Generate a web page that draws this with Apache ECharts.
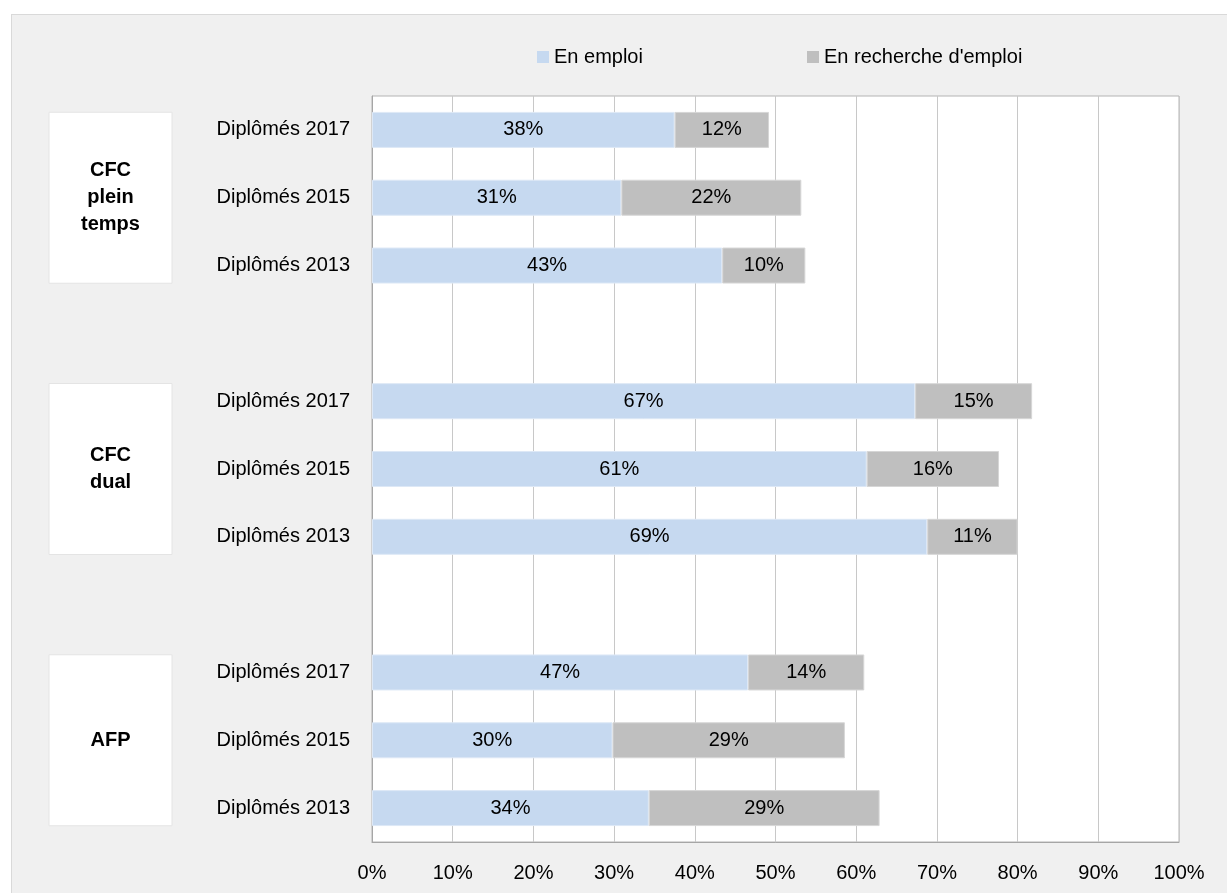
<!DOCTYPE html>
<html>
<head>
<meta charset="utf-8">
<script src="https://cdn.jsdelivr.net/npm/echarts@6/dist/echarts.min.js"></script>
<style>
  html, body { margin: 0; padding: 0; background: #fff; overflow: hidden; }
  #wrap { position: relative; width: 1227px; height: 893px; }
  #panel { position: absolute; left: 11px; top: 14px; width: 1230px; height: 900px; background: #f0f0f0; border: 1px solid #d9d9d9; }
  #chart { position: absolute; left: 0; top: 0; width: 1227px; height: 893px; }
</style>
</head>
<body>
<div id="wrap">
  <div id="panel"></div>
  <div id="chart"></div>
</div>
<script>
const FONT = '"Liberation Sans", Arial, sans-serif'

// 11 slots: 3 years per group, with an empty slot between groups
const categories = [
  'Diplômés 2017', 'Diplômés 2015', 'Diplômés 2013', '',
  'Diplômés 2017', 'Diplômés 2015', 'Diplômés 2013', '',
  'Diplômés 2017', 'Diplômés 2015', 'Diplômés 2013',
]
const enEmploi = [37.5, 30.9, 43.4, '-', 67.3, 61.3, 68.8, '-', 46.6, 29.8, 34.3]
const enRecherche = [11.7, 22.3, 10.3, '-', 14.5, 16.4, 11.2, '-', 14.4, 28.8, 28.6]
const groups = ['CFC\nplein\ntemps', 'CFC\ndual', 'AFP']
const groupMiddle = [1, 5, 9]
const seriesNames = ['En emploi', "En recherche d'emploi"]

const chart = echarts.init(document.getElementById('chart'))

const barLabel = {
  show: true,
  position: 'inside',
  color: '#000',
  fontFamily: FONT,
  fontSize: 20,
  formatter: (p) => `${Math.round(p.value)}%`,
}

const legendCommon = {
  top: 47, padding: 0,
  icon: 'rect', itemWidth: 12, itemHeight: 12,
  itemStyle: { borderWidth: 0 },
  textStyle: { fontFamily: FONT, fontSize: 20, lineHeight: 20, color: '#000' },
}

chart.setOption({
  animation: false,
  backgroundColor: 'transparent',
  textStyle: { fontFamily: FONT },
  legend: [
    { ...legendCommon, data: [seriesNames[0]], left: 537 },
    { ...legendCommon, data: [seriesNames[1]], left: 807 },
  ],
  grid: {
    left: 372, right: 48, top: 96, bottom: 51,
    show: true, backgroundColor: '#fff', borderColor: '#b4b4b4', borderWidth: 1,
  },
  xAxis: {
    type: 'value', min: 0, max: 100, interval: 10,
    axisLabel: { formatter: '{value}%', color: '#000', fontFamily: FONT, fontSize: 20, lineHeight: 20, margin: 21 },
    axisLine: { show: true, lineStyle: { color: '#a6a6a6' } },
    axisTick: { show: false },
    splitLine: { show: true, lineStyle: { color: '#c8c8c8' } },
  },
  yAxis: {
    type: 'category', inverse: true, data: categories,
    axisLabel: { color: '#000', fontFamily: FONT, fontSize: 20, margin: 22 },
    axisLine: { show: true, lineStyle: { color: '#a6a6a6' } },
    axisTick: { show: false },
  },
  series: [
    {
      name: seriesNames[0], type: 'bar', stack: 'total', barWidth: 36,
      data: enEmploi,
      itemStyle: { color: '#c6d9f0', borderColor: '#dde8f6', borderWidth: 1 },
      label: barLabel,
    },
    {
      name: seriesNames[1], type: 'bar', stack: 'total', barWidth: 36,
      data: enRecherche,
      itemStyle: { color: '#bfbfbf', borderColor: '#d6d6d6', borderWidth: 1 },
      label: barLabel,
    },
  ],
})

// group boxes on the left, centred on the middle year of each group
const boxes = groups.map((name, i) => {
  const cy = chart.convertToPixel({ yAxisIndex: 0 }, groupMiddle[i])
  return {
    type: 'group',
    children: [
      {
        type: 'rect',
        shape: { x: 49, y: cy - 85.5, width: 123, height: 171 },
        style: { fill: '#fff', stroke: '#e4e4e4', lineWidth: 1 },
      },
      {
        type: 'text',
        x: 110.5, y: cy,
        style: {
          text: name, align: 'center', verticalAlign: 'middle',
          font: `bold 20px ${FONT}`, lineHeight: 27, fill: '#000',
        },
      },
    ],
  }
})
chart.setOption({ graphic: boxes })
</script>
</body>
</html>
